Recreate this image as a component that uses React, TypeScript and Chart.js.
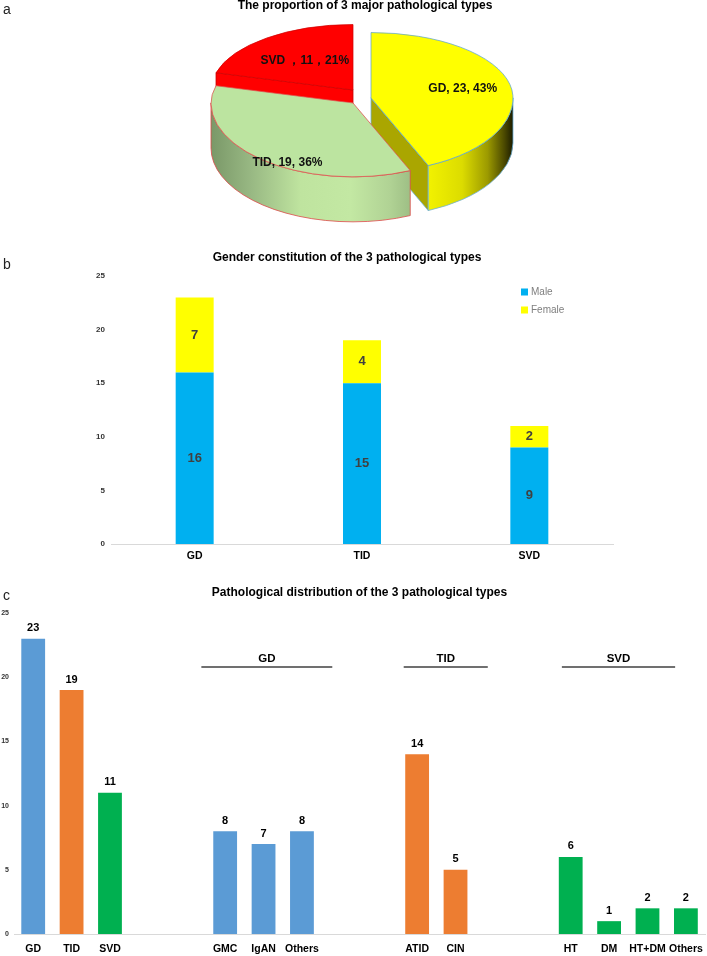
import React, { useEffect, useRef } from 'react';
import { Chart, registerables, PieController } from 'chart.js';

Chart.register(...registerables);

// ---------------- data ----------------
const pieLabels = ['GD', 'TID', 'SVD'];
const pieCounts = [23, 19, 11];

const genderCategories = ['GD', 'TID', 'SVD'];
const maleCounts = [16, 15, 9];
const femaleCounts = [7, 4, 2];

const overviewLabels = ['GD', 'TID', 'SVD'];
const overviewCounts = [23, 19, 11];
const gdSubtypes = ['GMC', 'IgAN', 'Others'];
const gdSubtypeCounts = [8, 7, 8];
const tidSubtypes = ['ATID', 'CIN'];
const tidSubtypeCounts = [14, 5];
const svdSubtypes = ['HT', 'DM', 'HT+DM', 'Others'];
const svdSubtypeCounts = [6, 1, 2, 2];

const yAxisMax = 25;
const yAxisStep = 5;

// ---------------- styles ----------------
const SANS = "'Liberation Sans', Arial, Helvetica, sans-serif";
Chart.defaults.font.family = SANS;

const C_BLUE = '#5b9bd5';
const C_ORANGE = '#ed7d31';
const C_GREEN = '#00b050';

// 3D look of the pie: back half is flatter than the front half (perspective)
const PIE3D_STYLE = {
  squashBack: 0.461,
  squashFront: 0.52,
  depth: 45,
  shiftX: -12,
  explode: [[18, -5], [0, 0], [0, -13]],
  wallOrder: [2, 0, 1],
  walls: [
    { face: '#aaa600', stroke: '#6fb0d8', gradient: [[0, '#f2f200'], [0.4, '#dcdc00'], [0.7, '#9c9a00'], [0.9, '#4a4800'], [1, '#1c1c00']] },
    { face: '#a9cb8f', stroke: '#dd4a4a', gradient: [[0, '#7a9868'], [0.2, '#98b883'], [0.45, '#bfe49f'], [0.7, '#c3e8a3'], [0.9, '#b0d294'], [1, '#9ebf85']] },
    { face: '#ff0000', stroke: '#c80000', gradient: [[0, '#c00000'], [1, '#ff0000']] },
  ],
  labelPlacement: [[0.66, 0], [0.93, -11], [0.56, 0]],
  labelFont: `bold 12px ${SANS}`,
  labelColor: '#111',
};

function pieLabelText(i: number) {
  const total = pieCounts.reduce((a, b) => a + b, 0);
  const pct = Math.round((pieCounts[i] / total) * 100);
  if (pieLabels[i] === 'SVD') return `${pieLabels[i]} \uFF0C${pieCounts[i]}\uFF0C${pct}%`;
  return `${pieLabels[i]}, ${pieCounts[i]}, ${pct}%`;
}

function kFor(t: number) {
  return Math.sin(t) < 0 ? PIE3D_STYLE.squashBack : PIE3D_STYLE.squashFront;
}

function drawWalls(ctx: CanvasRenderingContext2D, g: any, D: number, w: any) {
  const { ax, ay, r, s, e } = g;
  const kf = PIE3D_STYLE.squashFront;
  const P = (t: number, dz = 0) => [ax + r * Math.cos(t), ay + r * kFor(t) * Math.sin(t) + dz];
  ctx.save();
  ctx.lineWidth = 0.8;
  ctx.strokeStyle = w.stroke;
  ctx.lineJoin = 'round';
  const faces: number[] = [];
  if (Math.cos(s) < -1e-6) faces.push(s);
  if (Math.cos(e) > 1e-6) faces.push(e);
  for (const t of faces) {
    const [px, py] = P(t);
    ctx.beginPath();
    ctx.moveTo(ax, ay);
    ctx.lineTo(px, py);
    ctx.lineTo(px, py + D);
    ctx.lineTo(ax, ay + D);
    ctx.closePath();
    ctx.fillStyle = w.face;
    ctx.fill();
    ctx.stroke();
  }
  const ws = Math.max(s, 0);
  const we = Math.min(e, Math.PI);
  if (we > ws) {
    let xmin = Infinity, xmax = -Infinity;
    for (let j = 0; j <= 60; j++) {
      const t = ws + ((we - ws) * j) / 60;
      const x = ax + r * Math.cos(t);
      xmin = Math.min(xmin, x);
      xmax = Math.max(xmax, x);
    }
    const grad = ctx.createLinearGradient(xmin, 0, xmax, 0);
    w.gradient.forEach(([o, c]: [number, string]) => grad.addColorStop(o, c));
    ctx.beginPath();
    ctx.ellipse(ax, ay, r, r * kf, 0, ws, we, false);
    ctx.ellipse(ax, ay + D, r, r * kf, 0, we, ws, true);
    ctx.closePath();
    ctx.fillStyle = grad;
    ctx.fill();
    ctx.stroke();
  }
  ctx.restore();
}

class Pie3DController extends (PieController as any) {
  static id = 'pie3d';
  draw() {
    const self: any = this;
    const chart = self.chart;
    const ctx: CanvasRenderingContext2D = chart.ctx;
    const arcs: any[] = self._cachedMeta.data;
    const st = PIE3D_STYLE;
    const D = st.depth;
    const W = chart.width;
    const geo = arcs.map((a: any, i: number) => ({
      a,
      i,
      ax: a.x + st.shiftX + st.explode[i][0],
      ay: a.y + st.explode[i][1],
      r: a.outerRadius,
      s: a.startAngle,
      e: a.endAngle,
    }));
    for (const i of st.wallOrder) drawWalls(ctx, geo[i], D, st.walls[i]);
    for (const g of geo) {
      // back half
      ctx.save();
      ctx.beginPath();
      ctx.rect(0, 0, W, g.ay + 0.5);
      ctx.clip();
      ctx.translate(g.ax, g.ay);
      ctx.scale(1, st.squashBack);
      ctx.translate(-g.a.x, -g.a.y);
      g.a.draw(ctx);
      ctx.restore();
      // front half
      ctx.save();
      ctx.beginPath();
      ctx.rect(0, g.ay - 0.5, W, chart.height);
      ctx.clip();
      ctx.translate(g.ax, g.ay);
      ctx.scale(1, st.squashFront);
      ctx.translate(-g.a.x, -g.a.y);
      g.a.draw(ctx);
      ctx.restore();
    }
    ctx.save();
    ctx.font = st.labelFont;
    ctx.fillStyle = st.labelColor;
    ctx.textAlign = 'center';
    ctx.textBaseline = 'middle';
    geo.forEach((g: any) => {
      const [f, shift] = st.labelPlacement[g.i];
      const mid = (g.s + g.e) / 2 + (shift * Math.PI) / 180;
      const lx = g.ax + g.r * f * Math.cos(mid);
      const ly = g.ay + g.r * kFor(mid) * f * Math.sin(mid);
      ctx.fillText(pieLabelText(g.i), lx, ly);
    });
    ctx.restore();
  }
}
Chart.register(Pie3DController as any);

// ---------------- plugins ----------------
function makeValueLabels(mode: 'center' | 'top', font: string, color: string, gap: number) {
  return {
    id: 'valueLabels' + mode,
    afterDatasetsDraw(chart: any) {
      const ctx = chart.ctx;
      ctx.save();
      ctx.font = font;
      ctx.fillStyle = color;
      ctx.textAlign = 'center';
      chart.data.datasets.forEach((ds: any, di: number) => {
        const meta = chart.getDatasetMeta(di);
        meta.data.forEach((bar: any, i: number) => {
          const v = ds.data[i];
          if (v === null || v === undefined) return;
          const { x, y, base } = bar.getProps(['x', 'y', 'base'], true);
          if (mode === 'center') {
            ctx.textBaseline = 'middle';
            ctx.fillText(String(v), x, (y + base) / 2);
          } else {
            ctx.textBaseline = 'bottom';
            ctx.fillText(String(v), x, y - gap);
          }
        });
      });
      ctx.restore();
    },
  };
}

const insideLegendPlugin = {
  id: 'insideLegend',
  afterDraw(chart: any) {
    const { ctx, chartArea } = chart;
    const x0 = chartArea.right - 92;
    const y0 = chartArea.top + 16;
    ctx.save();
    chart.data.datasets.forEach((ds: any, i: number) => {
      const y = y0 + i * 18;
      ctx.fillStyle = ds.backgroundColor;
      ctx.fillRect(x0, y - 3.5, 7, 7);
      ctx.fillStyle = '#7f7f7f';
      ctx.font = `10px ${SANS}`;
      ctx.textAlign = 'left';
      ctx.textBaseline = 'middle';
      ctx.fillText(ds.label, x0 + 10, y);
    });
    ctx.restore();
  },
};

// ---------------- panel c structure ----------------
const GROUP_GAP = 2;
const GROUP_LINE_EXTENT: Record<string, [number, number]> = {
  GD: [-0.62, 0.79],
  TID: [-0.35, 0.84],
  SVD: [-0.23, -0.28],
};
const GROUP_LINE_LEVEL = 20.8;

function buildPanelC() {
  const blocks = [
    { title: '', names: overviewLabels, counts: overviewCounts, colors: [C_BLUE, C_ORANGE, C_GREEN] },
    { title: 'GD', names: gdSubtypes, counts: gdSubtypeCounts, colors: gdSubtypes.map(() => C_BLUE) },
    { title: 'TID', names: tidSubtypes, counts: tidSubtypeCounts, colors: tidSubtypes.map(() => C_ORANGE) },
    { title: 'SVD', names: svdSubtypes, counts: svdSubtypeCounts, colors: svdSubtypes.map(() => C_GREEN) },
  ];
  const labels: string[] = [];
  const values: (number | null)[] = [];
  const colors: string[] = [];
  const spans: { title: string; first: number; last: number }[] = [];
  blocks.forEach((b, bi) => {
    if (bi > 0) {
      for (let g = 0; g < GROUP_GAP; g++) {
        labels.push('');
        values.push(null);
        colors.push('rgba(0,0,0,0)');
      }
    }
    const first = labels.length;
    b.names.forEach((n, i) => {
      labels.push(n);
      values.push(b.counts[i]);
      colors.push(b.colors[i]);
    });
    if (b.title) spans.push({ title: b.title, first, last: labels.length - 1 });
  });
  return { labels, values, colors, spans };
}

function makeGroupBrackets(spans: { title: string; first: number; last: number }[]) {
  return {
    id: 'groupBrackets',
    afterDatasetsDraw(chart: any) {
      const { ctx, scales } = chart;
      const xs = scales.x;
      const ys = scales.y;
      const yPix = ys.getPixelForValue(GROUP_LINE_LEVEL);
      ctx.save();
      spans.forEach((sp) => {
        const ext = GROUP_LINE_EXTENT[sp.title];
        const x0 = xs.getPixelForValue(sp.first + ext[0]);
        const x1 = xs.getPixelForValue(sp.last + ext[1]);
        ctx.strokeStyle = '#404040';
        ctx.lineWidth = 1.5;
        ctx.beginPath();
        ctx.moveTo(x0, yPix);
        ctx.lineTo(x1, yPix);
        ctx.stroke();
        ctx.fillStyle = '#000';
        ctx.font = `bold 11.5px ${SANS}`;
        ctx.textAlign = 'center';
        ctx.textBaseline = 'alphabetic';
        ctx.fillText(sp.title, (x0 + x1) / 2, yPix - 4.5);
      });
      ctx.restore();
    },
  };
}

// ---------------- configs ----------------
function pieConfig(): any {
  return {
    type: 'pie3d',
    data: {
      labels: pieLabels,
      datasets: [
        {
          data: pieCounts,
          backgroundColor: ['#ffff00', '#bce4a0', '#ff0000'],
          borderColor: ['#5aa2d6', '#e05050', '#d00000'],
          borderWidth: 1,
          clip: false,
        },
      ],
    },
    options: {
      animation: false,
      responsive: false,
      events: [],
      radius: 142,
      layout: { padding: { left: 23, right: 0, top: 0, bottom: 46 } },
      plugins: {
        legend: { display: false },
        tooltip: { enabled: false },
        title: {
          display: true,
          text: 'The proportion of 3 major pathological types',
          color: '#000',
          font: { size: 12, weight: 'bold', family: SANS, lineHeight: 1 },
          padding: { top: 0, bottom: 8 },
        },
      },
    },
  };
}

function genderConfig(): any {
  return {
    type: 'bar',
    data: {
      labels: genderCategories,
      datasets: [
        { label: 'Male', data: maleCounts, backgroundColor: '#00b0f0' },
        { label: 'Female', data: femaleCounts, backgroundColor: '#ffff00' },
      ],
    },
    options: {
      animation: false,
      responsive: false,
      events: [],
      layout: { padding: { left: 81, right: 94, top: 0, bottom: 0 } },
      datasets: { bar: { categoryPercentage: 1, barPercentage: 0.227 } },
      scales: {
        x: {
          stacked: true,
          grid: { display: false, drawTicks: false },
          border: { display: true, color: '#d9d9d9', width: 1 },
          ticks: { color: '#000', font: { size: 10.5, weight: 'bold' }, padding: 6 },
          afterFit: (s: any) => { s.height = 26; },
        },
        y: {
          stacked: true,
          min: 0,
          max: yAxisMax,
          grid: { display: false, drawTicks: false },
          border: { display: false },
          ticks: { stepSize: yAxisStep, color: '#333', font: { size: 8, weight: 'bold' }, padding: 6 },
          afterFit: (s: any) => { s.width = 30; },
        },
      },
      plugins: {
        legend: { display: false },
        tooltip: { enabled: false },
        title: {
          display: true,
          text: 'Gender constitution of the 3 pathological types',
          color: '#000',
          font: { size: 12, weight: 'bold', family: SANS, lineHeight: 1 },
          padding: { top: 12, bottom: 12 },
        },
      },
    },
    plugins: [makeValueLabels('center', `bold 13px ${SANS}`, '#404040', 0), insideLegendPlugin],
  };
}

function distributionConfig(): any {
  const c = buildPanelC();
  return {
    type: 'bar',
    data: {
      labels: c.labels,
      datasets: [{ label: 'Cases', data: c.values, backgroundColor: c.colors }],
    },
    options: {
      animation: false,
      responsive: false,
      events: [],
      layout: { padding: { left: 0, right: 1, top: 0, bottom: 0 } },
      datasets: { bar: { categoryPercentage: 1, barPercentage: 0.62 } },
      scales: {
        x: {
          grid: { display: false, drawTicks: false },
          border: { display: true, color: '#d9d9d9', width: 1 },
          ticks: { color: '#000', font: { size: 10.5, weight: 'bold' }, padding: 9, autoSkip: false, maxRotation: 0 },
          afterFit: (s: any) => { s.height = 22; },
        },
        y: {
          min: 0,
          max: yAxisMax,
          grid: { display: false, drawTicks: false },
          border: { display: false },
          ticks: { stepSize: yAxisStep, color: '#333', font: { size: 7, weight: 'bold' }, padding: 5 },
          afterFit: (s: any) => { s.width = 14; },
        },
      },
      plugins: {
        legend: { display: false },
        tooltip: { enabled: false },
        title: {
          display: true,
          fullSize: false,
          text: 'Pathological distribution of the 3 pathological types',
          color: '#000',
          font: { size: 12, weight: 'bold', family: SANS, lineHeight: 1 },
          padding: { top: 17, bottom: 14 },
        },
      },
    },
    plugins: [makeValueLabels('top', `bold 11px ${SANS}`, '#000', 5), makeGroupBrackets(c.spans)],
  };
}

// ---------------- components ----------------
function ChartCanvas(props: { makeConfig: () => any; left: number; top: number; width: number; height: number }) {
  const ref = useRef<HTMLCanvasElement>(null);
  useEffect(() => {
    const chart = new Chart(ref.current as HTMLCanvasElement, props.makeConfig());
    return () => chart.destroy();
  }, []);
  return (
    <canvas
      ref={ref}
      width={props.width}
      height={props.height}
      style={{ position: 'absolute', left: props.left, top: props.top, width: props.width, height: props.height }}
    />
  );
}

const letterStyle = (left: number, top: number): React.CSSProperties => ({
  position: 'absolute',
  left,
  top,
  fontFamily: SANS,
  fontSize: 14,
  lineHeight: '14px',
  color: '#222',
});

export default function App() {
  return (
    <div
      style={{
        position: 'absolute',
        left: 0,
        top: 0,
        width: 707,
        height: 956,
        overflow: 'hidden',
        background: '#fff',
      }}
    >
      <ChartCanvas makeConfig={pieConfig} left={0} top={0} width={707} height={232} />
      <ChartCanvas makeConfig={genderConfig} left={0} top={240} width={707} height={330} />
      <ChartCanvas makeConfig={distributionConfig} left={0} top={570} width={712} height={386} />
      <div style={letterStyle(3, 2)}>a</div>
      <div style={letterStyle(3, 257)}>b</div>
      <div style={letterStyle(3, 588)}>c</div>
    </div>
  );
}
